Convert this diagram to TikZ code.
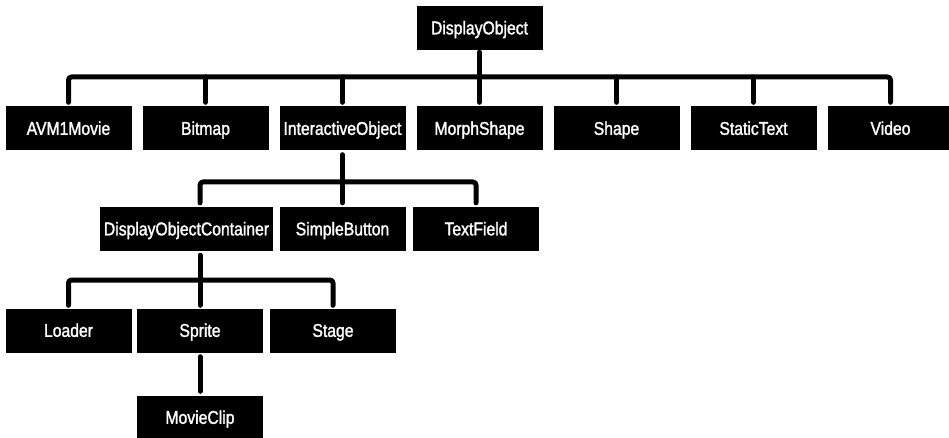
\documentclass[tikz,border=0pt]{standalone}
\usepackage{fontspec}
\setmainfont{Liberation Sans}[FakeStretch=0.85,FakeBold=1.5]
\begin{document}
\begin{tikzpicture}[x=1pt,y=-1pt,
  box/.style={fill=black,text=white,minimum width=126pt,minimum height=44pt,inner sep=0pt,
    text height=12.7pt,text depth=0pt,font=\fontsize{18.5}{19}\selectfont},
  conn/.style={line width=5pt,line cap=round,line join=round,rounded corners=3pt}]
\useasboundingbox (0,0) rectangle (949,438);
% nodes
\node[box] (DO) at (479.5,28) {DisplayObject};
\node[box] (AVM) at (68.5,128.5) {AVM1Movie};
\node[box] (BM) at (205.5,128.5) {Bitmap};
\node[box] (IO) at (342.5,128.5) {InteractiveObject};
\node[box] (MS) at (479.5,128.5) {MorphShape};
\node[box] (SH) at (616.5,128.5) {Shape};
\node[box] (ST) at (753.5,128.5) {StaticText};
\node[box] (VI) at (890.5,128.5) {Video};
\node[box,minimum width=173pt] (DOC) at (186.5,229) {DisplayObjectContainer};
\node[box] (SB) at (342.5,229) {SimpleButton};
\node[box] (TF) at (476,229) {TextField};
\node[box] (LO) at (68.5,330.5) {Loader};
\node[box] (SP) at (200,330.5) {Sprite};
\node[box] (SG) at (333,330.5) {Stage};
\node[box] (MC) at (200,417.5) {MovieClip};
% bus coordinates
\coordinate (b1) at (479.5,77);
\coordinate (b2) at (342.5,182);
\coordinate (b3) at (200,280);
% level 1
\draw[conn] ([yshift=-2pt]DO.south) -- ([yshift=4pt]MS.north);
\draw[conn] ([yshift=4pt]AVM.north) |- (b1) -| ([yshift=4pt]VI.north);
\foreach \n in {BM,IO,SH,ST}
  \draw[conn] (\n.north |- b1) -- ([yshift=4pt]\n.north);
% level 2
\draw[conn] ([yshift=-4pt]IO.south) -- ([yshift=4pt]SB.north);
\draw[conn] ([xshift=13.5pt,yshift=4pt]DOC.north) |- (b2) -| ([yshift=4pt]TF.north);
% level 3
\draw[conn] ([xshift=13.5pt,yshift=-4pt]DOC.south) -- ([yshift=3pt]SP.north);
\draw[conn] ([yshift=3pt]LO.north) |- (b3) -| ([yshift=3pt]SG.north);
% level 4
\draw[conn] ([yshift=-4pt]SP.south) -- ([yshift=4pt]MC.north);
\end{tikzpicture}
\end{document}
